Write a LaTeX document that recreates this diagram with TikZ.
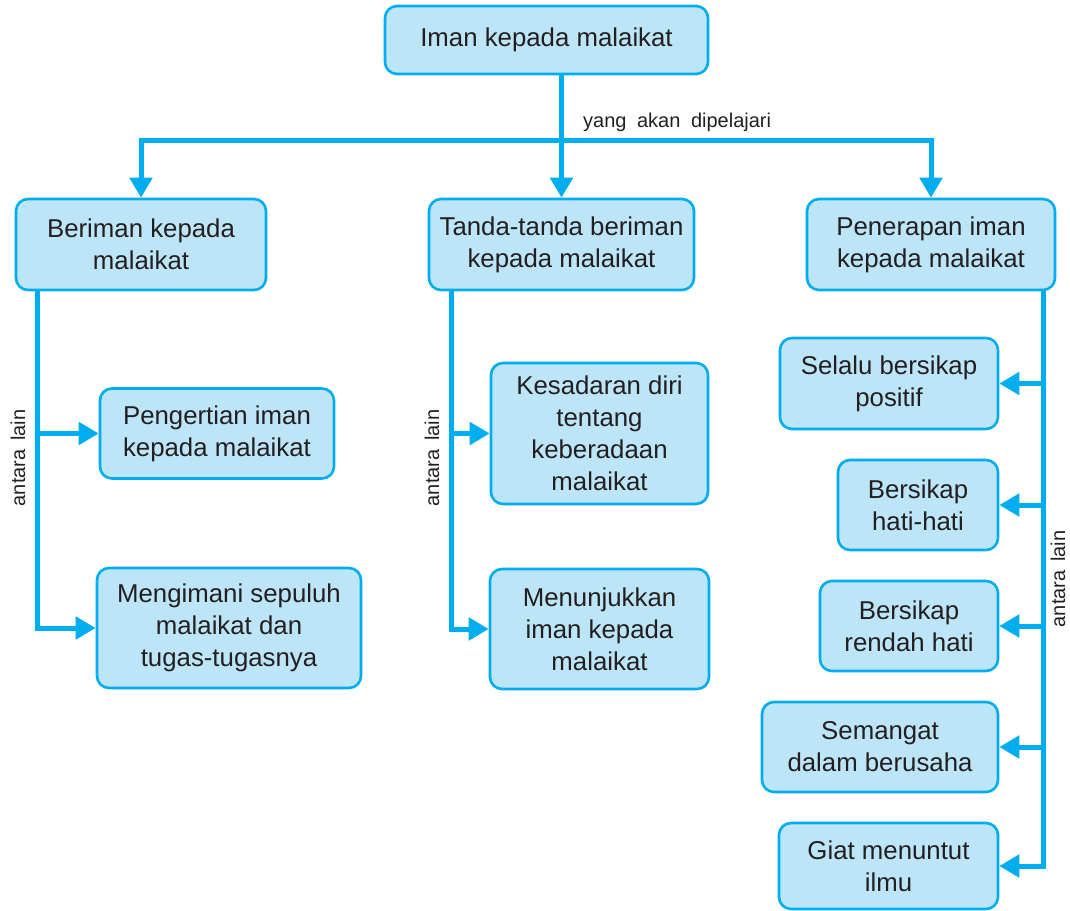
\documentclass[tikz,border=0pt]{standalone}
\usepackage{fontspec}
\setmainfont{Liberation Sans}
\usetikzlibrary{arrows.meta}
\definecolor{cyanline}{HTML}{00AEEF}
\definecolor{boxfill}{HTML}{BDE5F8}
\definecolor{txt}{HTML}{231F20}
\begin{document}
\begin{tikzpicture}[x=1pt,y=-1pt,
  box/.style={draw=cyanline, line width=2.6pt, fill=boxfill, rounded corners=12pt,
    inner sep=0pt, align=center, text=txt,
    font=\fontsize{25.8}{32}\selectfont},
  conn/.style={draw=cyanline, line width=5pt, line join=miter},
  arr/.style={conn, -{Triangle[length=20pt,width=22pt]}},
  lbl/.style={text=txt, font=\fontsize{20}{22}\selectfont, inner sep=0pt}
]
\useasboundingbox (0,0) rectangle (1070,910);

\node[box, minimum width=323pt, minimum height=68pt] (top) at (546.5,40) {Iman kepada malaikat};
\node[box, minimum width=250pt, minimum height=91pt] (L1) at (141,244.5) {Beriman kepada\\malaikat};
\node[box, minimum width=265pt, minimum height=91pt] (M1) at (561.5,244.5) {Tanda-tanda beriman\\kepada malaikat};
\node[box, minimum width=248pt, minimum height=91pt] (R1) at (931,244.5) {Penerapan iman\\kepada malaikat};

\node[box, minimum width=234pt, minimum height=90pt] (L2) at (217,433.5) {Pengertian iman\\kepada malaikat};
\node[box, minimum width=264pt, minimum height=120pt] (L3) at (229,628) {Mengimani sepuluh\\malaikat dan\\tugas-tugasnya};

\node[box, minimum width=217pt, minimum height=141pt] (M2) at (599.5,433.5) {Kesadaran diri\\tentang\\keberadaan\\malaikat};
\node[box, minimum width=219pt, minimum height=120pt] (M3) at (599.5,629) {Menunjukkan\\iman kepada\\malaikat};

\node[box, minimum width=218pt, minimum height=91pt] (R2) at (889,383.5) {Selalu bersikap\\positif};
\node[box, minimum width=160pt, minimum height=90pt] (R3) at (918,505) {Bersikap\\hati-hati};
\node[box, minimum width=178pt, minimum height=90pt] (R4) at (909,626) {Bersikap\\rendah hati};
\node[box, minimum width=236pt, minimum height=90pt] (R5) at (880,747) {Semangat\\dalam berusaha};
\node[box, minimum width=219pt, minimum height=86pt] (R6) at (888.5,866) {Giat menuntut\\ilmu};

\coordinate (hb) at (0,140);
\coordinate (lx) at (37,0);
\coordinate (mx) at (451,0);
\coordinate (rx) at (1043,0);

% top level
\draw[conn, {Triangle[length=20pt,width=22pt]}-{Triangle[length=20pt,width=22pt]}]
  (L1.north) -- (L1.north |- hb) -- (R1.north |- hb) -- (R1.north);
\draw[arr] (top.south -| M1.north) -- (M1.north);
\node[lbl, anchor=base west] (yak) at (583,127) {yang\hspace{5pt} akan\hspace{5pt} dipelajari};

% left branch
\draw[arr] (L1.south -| lx) -- (lx |- L3.west) -- (L3.west);
\draw[arr] (lx |- L2.west) -- (L2.west);
\node[lbl, rotate=90] (al1) at (18,458) {antara\hspace{3pt} lain};

% middle branch
\draw[arr] (M1.south -| mx) -- (mx |- M3.west) -- (M3.west);
\draw[arr] (mx |- M2.west) -- (M2.west);
\node[lbl, rotate=90] (al2) at (432,458) {antara\hspace{3pt} lain};

% right branch
\draw[arr] (R1.south -| rx) -- (rx |- R6.east) -- (R6.east);
\draw[arr] (rx |- R2.east) -- (R2.east);
\draw[arr] (rx |- R3.east) -- (R3.east);
\draw[arr] (rx |- R4.east) -- (R4.east);
\draw[arr] (rx |- R5.east) -- (R5.east);
\node[lbl, rotate=90] (al3) at (1058,579) {antara\hspace{3pt} lain};
\end{tikzpicture}
\end{document}
